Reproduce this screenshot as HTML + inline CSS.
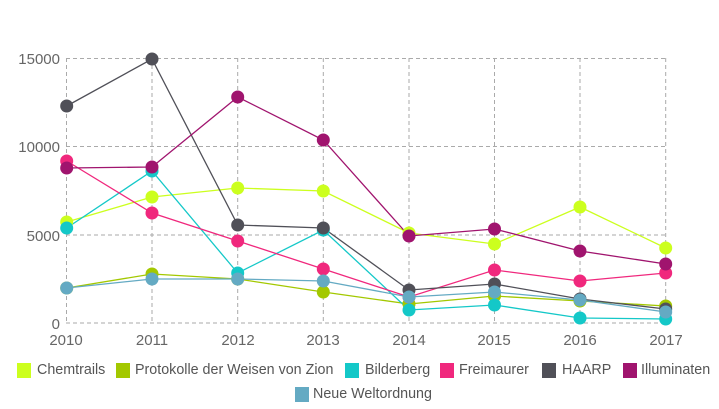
<!DOCTYPE html>
<html><head><meta charset="utf-8"><style>
body{margin:0;background:#fff;font-family:"Liberation Sans",sans-serif}
.l{position:absolute;font-size:14.3px;color:#555;white-space:nowrap;line-height:16px}
.s{position:absolute;width:14px;height:15px}
</style></head><body>
<div style="position:relative;width:719px;height:409px;overflow:hidden">
<svg width="719" height="409" style="position:absolute;left:0;top:0" font-family="Liberation Sans, sans-serif">
<g stroke="#aaa" stroke-width="1" stroke-dasharray="4,3" fill="none">
<line x1="66" y1="58.5" x2="666" y2="58.5"/><line x1="66" y1="146.5" x2="666" y2="146.5"/><line x1="66" y1="235" x2="666" y2="235"/><line x1="66" y1="323" x2="666" y2="323"/>
<line x1="66.5" y1="58" x2="66.5" y2="323"/><line x1="152" y1="58" x2="152" y2="323"/><line x1="237.7" y1="58" x2="237.7" y2="323"/><line x1="323.3" y1="58" x2="323.3" y2="323"/><line x1="409" y1="58" x2="409" y2="323"/><line x1="494.5" y1="58" x2="494.5" y2="323"/><line x1="580" y1="58" x2="580" y2="323"/><line x1="665.7" y1="58" x2="665.7" y2="323"/>
</g>
<g fill="#666" font-size="15" text-anchor="end">
<text x="60" y="64">15000</text><text x="60" y="152">10000</text><text x="60" y="241">5000</text><text x="60" y="329">0</text>
</g>
<g fill="#666" font-size="15" text-anchor="middle">
<text x="66" y="345">2010</text><text x="152" y="345">2011</text><text x="238" y="345">2012</text><text x="323" y="345">2013</text><text x="409" y="345">2014</text><text x="494" y="345">2015</text><text x="580" y="345">2016</text><text x="666" y="345">2017</text>
</g>
<g fill="none" stroke-width="1.3">
<polyline stroke="#ccff1e" points="66.7,222 152,197 237.7,188 323.3,191 409,233 494.5,244 580,207 665.7,248"/>
<polyline stroke="#a3c800" points="66.7,288 152,274 237.7,279 323.3,292 409,304 494.5,296 580,301 665.7,306"/>
<polyline stroke="#14c8c8" points="66.7,228 152,171 237.7,273 323.3,230 409,310 494.5,305 580,318 665.7,319"/>
<polyline stroke="#f0287d" points="66.7,161 152,213 237.7,241 323.3,269 409,297 494.5,270 580,281 665.7,273"/>
<polyline stroke="#505058" points="66.7,106 152,59 237.7,225 323.3,228 409,290 494.5,284 580,299 665.7,309"/>
<polyline stroke="#a0146e" points="66.7,168 152,167 237.7,97 323.3,140 409,236 494.5,229 580,251 665.7,264"/>
<polyline stroke="#64aac3" points="66.7,288 152,279 237.7,279 323.3,281 409,297 494.5,292 580,300 665.7,312"/>
</g>
<g id="m"></g>
</svg>
<div class="s" style="left:17px;top:363px;background:#ccff1e"></div><div class="l" style="left:37px;top:362px">Chemtrails</div>
<div class="s" style="left:116px;top:363px;background:#a3c800"></div><div class="l" style="left:135px;top:362px">Protokolle der Weisen von Zion</div>
<div class="s" style="left:345px;top:363px;background:#14c8c8"></div><div class="l" style="left:365px;top:362px">Bilderberg</div>
<div class="s" style="left:440px;top:363px;background:#f0287d"></div><div class="l" style="left:459px;top:362px">Freimaurer</div>
<div class="s" style="left:542px;top:363px;background:#505058"></div><div class="l" style="left:562px;top:362px">HAARP</div>
<div class="s" style="left:623px;top:363px;background:#a0146e"></div><div class="l" style="left:641px;top:362px">Illuminaten</div>
<div class="s" style="left:295px;top:387px;background:#64aac3"></div><div class="l" style="left:313px;top:386px">Neue Weltordnung</div>
</div>
<script>
var d=[["#ccff1e",[222,197,188,191,233,244,207,248]],["#a3c800",[288,274,279,292,304,296,301,306]],["#14c8c8",[228,171,273,230,310,305,318,319]],["#f0287d",[161,213,241,269,297,270,281,273]],["#505058",[106,59,225,228,290,284,299,309]],["#a0146e",[168,167,97,140,236,229,251,264]],["#64aac3",[288,279,279,281,297,292,300,312]]];
var xs=[66.7,152,237.7,323.3,409,494.5,580,665.7],g=document.getElementById("m"),h="";
d.forEach(function(s){s[1].forEach(function(y,i){h+='<circle cx="'+xs[i]+'" cy="'+y+'" r="6.5" fill="'+s[0]+'"/>';});});
g.innerHTML=h;
</script>
</body></html>
